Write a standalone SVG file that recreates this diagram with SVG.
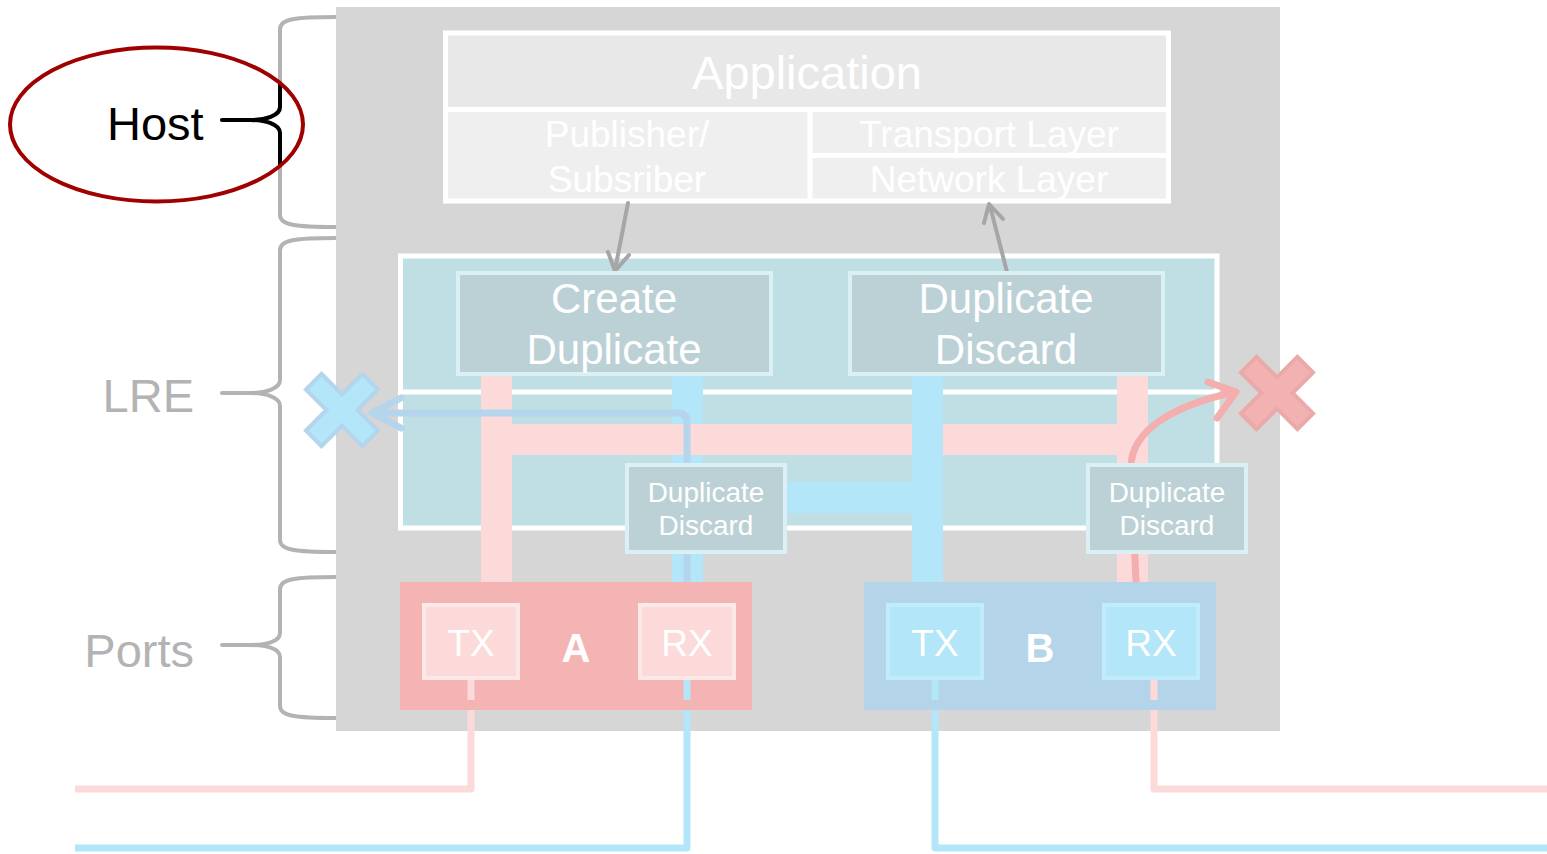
<svg xmlns="http://www.w3.org/2000/svg" width="1547" height="854" viewBox="0 0 1547 854">
<style>
.brace{fill:none;stroke:#b3b3b3;stroke-width:4;stroke-linecap:round;stroke-linejoin:round}
.lbl{font-family:"Liberation Sans",Arial,sans-serif;font-size:47px;fill:#b3b3b3}
.w{font-family:"Liberation Sans",Arial,sans-serif;fill:#ffffff;text-anchor:middle}
.box{fill:#bcd1d6;stroke:#daf0f5;stroke-width:4}
.pink{fill:#fddada}
.blue{fill:#b2e6f8}
.garrow{fill:none;stroke:#a6a6a6;stroke-width:4;stroke-linecap:round;stroke-linejoin:round}
.wire{fill:none;stroke-width:7;stroke-linejoin:round}
</style>
<defs>
<clipPath id="ellClip"><ellipse cx="156.5" cy="124.5" rx="146.5" ry="77"/></clipPath>
<path id="cross" d="M-11,-40 L11,-40 L11,-11 L40,-11 L40,11 L11,11 L11,40 L-11,40 L-11,11 L-40,11 L-40,-11 L-11,-11 Z"/>
</defs>

<!-- braces -->
<g id="braces">
<path id="brace-host" class="brace" d="M336,17 C295,17 280,19 280,29 L280,107 C280,116 265,120 250,120 L222,120 M250,120 C265,120 280,124 280,133 L280,215 C280,225 295,227 336,227"/>
<path class="brace" style="stroke:#000000" clip-path="url(#ellClip)" d="M336,17 C295,17 280,19 280,29 L280,107 C280,116 265,120 250,120 L222,120 M250,120 C265,120 280,124 280,133 L280,215 C280,225 295,227 336,227"/>
<path id="brace-lre" class="brace" d="M336,238 C295,238 280,240 280,250 L280,380 C280,389 265,393 250,393 L222,393 M250,393 C265,393 280,397 280,406 L280,540 C280,550 295,552 336,552"/>
<path id="brace-ports" class="brace" d="M336,577 C295,577 280,579 280,589 L280,633 C280,642 265,645 250,645 L222,645 M250,645 C265,645 280,648 280,657 L280,706 C280,716 295,718 336,718"/>
</g>

<!-- host background -->
<rect id="host-bg" x="336" y="7" width="944" height="724" fill="#d6d6d6"/>

<!-- application stack -->
<g id="app">
<rect x="445.5" y="33" width="723" height="76" fill="#e8e8e8"/>
<rect x="445.5" y="109" width="723" height="92" fill="#efefef"/>
<rect x="445.5" y="33" width="723" height="168" fill="none" stroke="#ffffff" stroke-width="5"/>
<line x1="445.5" y1="109.5" x2="1168.5" y2="109.5" stroke="#ffffff" stroke-width="5"/>
<line x1="810" y1="109.5" x2="810" y2="201" stroke="#ffffff" stroke-width="5"/>
<line x1="810" y1="155.5" x2="1168.5" y2="155.5" stroke="#ffffff" stroke-width="5"/>
<text class="w" x="807" y="89" font-size="47">Application</text>
<text class="w" x="627" y="147" font-size="37">Publisher/</text>
<text class="w" x="627" y="192" font-size="37">Subsriber</text>
<text class="w" x="989" y="147" font-size="37">Transport Layer</text>
<text class="w" x="989" y="192" font-size="37">Network Layer</text>
</g>

<!-- LRE -->
<g id="lre">
<rect x="400.5" y="256" width="816.5" height="272" fill="#bfdfe5" stroke="#ffffff" stroke-width="5"/>
<line x1="400.5" y1="392" x2="1217" y2="392" stroke="#ffffff" stroke-width="5"/>
</g>

<!-- connectors -->
<g id="connectors">
<g id="bands">
<rect class="blue" x="672" y="375" width="31" height="207"/>
<rect class="pink" x="481" y="375" width="31" height="207"/>
<rect class="pink" x="481" y="424" width="667" height="31"/>
<rect class="pink" x="1117" y="375" width="31" height="207"/>
<rect class="blue" x="786" y="482" width="127" height="31"/>
<rect class="blue" x="912" y="375" width="31" height="207"/>
</g>
<path class="garrow" d="M628,203 L615,270 M608,252 L615,271 L629,255"/>
<path class="garrow" d="M1007,272 L990,206 M984,223 L989,204 L1003,219"/>
<path id="blue-loop" fill="none" stroke="#b4d5ec" stroke-width="7" stroke-linecap="round" stroke-linejoin="round" d="M687,582 L687,422 Q687,413 678,413 L374,413 M401,398 L372,413 L401,428"/>
<path id="pink-curve" fill="none" stroke="#f4aeae" stroke-width="7" stroke-linecap="round" stroke-linejoin="round" d="M1136,582 L1131,470 C1129,430 1175,405 1235,392 M1208,382 L1236,392 L1217,418"/>
<path class="wire" stroke="#fddada" d="M471,680 L471,789 L75,789"/>
<path class="wire" stroke="#b2e6f8" d="M687,680 L687,848 L75,848"/>
<path class="wire" stroke="#b2e6f8" d="M935,680 L935,848 L1547,848"/>
<path class="wire" stroke="#fddada" d="M1154,680 L1154,789 L1547,789"/>
</g>

<!-- LRE function boxes -->
<g id="create-duplicate">
<rect class="box" x="458" y="273" width="313" height="101"/>
<text class="w" x="614" y="313" font-size="42">Create</text>
<text class="w" x="614" y="364" font-size="42">Duplicate</text>
</g>
<g id="duplicate-discard-top">
<rect class="box" x="850" y="273" width="313" height="101"/>
<text class="w" x="1006" y="313" font-size="42">Duplicate</text>
<text class="w" x="1006" y="364" font-size="42">Discard</text>
</g>
<g id="duplicate-discard-a">
<rect class="box" x="627" y="465" width="158" height="87"/>
<text class="w" x="706" y="502" font-size="28">Duplicate</text>
<text class="w" x="706" y="535" font-size="28">Discard</text>
</g>
<g id="duplicate-discard-b">
<rect class="box" x="1088" y="465" width="158" height="87"/>
<text class="w" x="1167" y="502" font-size="28">Duplicate</text>
<text class="w" x="1167" y="535" font-size="28">Discard</text>
</g>

<!-- ports -->
<g id="port-a">
<rect x="400" y="582" width="352" height="128" fill="#f4b4b4"/>
<rect x="424" y="605" width="94" height="73" fill="#fddada" stroke="#fde8e8" stroke-width="4"/>
<rect x="640" y="605" width="94" height="73" fill="#fddada" stroke="#fde8e8" stroke-width="4"/>
<text class="w" x="471" y="656" font-size="37">TX</text>
<text class="w" x="687" y="656" font-size="37">RX</text>
<text class="w" x="576" y="662" font-size="40" font-weight="bold">A</text>
</g>
<g id="port-b">
<rect x="864" y="582" width="352" height="128" fill="#b4d4ea"/>
<rect x="888" y="605" width="94" height="73" fill="#b2e6f8" stroke="#c0ecfb" stroke-width="4"/>
<rect x="1104" y="605" width="94" height="73" fill="#b2e6f8" stroke="#c0ecfb" stroke-width="4"/>
<text class="w" x="935" y="656" font-size="37">TX</text>
<text class="w" x="1151" y="656" font-size="37">RX</text>
<text class="w" x="1040" y="662" font-size="40" font-weight="bold">B</text>
</g>
<g id="wire-stubs">
<path class="wire" stroke="#fddada" d="M471,680 L471,700"/>
<path class="wire" stroke="#b2e6f8" d="M687,680 L687,700"/>
<path class="wire" stroke="#b2e6f8" d="M935,680 L935,700"/>
<path class="wire" stroke="#fddada" d="M1154,680 L1154,700"/>
</g>

<!-- X marks -->
<g id="x-blue"><use href="#cross" transform="translate(342,410) rotate(45)" fill="#b2e6f8" stroke="#b4d5ec" stroke-width="4"/></g>
<g id="x-red"><use href="#cross" transform="translate(1277,393) rotate(45)" fill="#f3b2b2" stroke="#ebaaaa" stroke-width="4"/></g>

<!-- labels -->
<g id="host-label">
<ellipse cx="156.5" cy="124.5" rx="146.5" ry="77" fill="none" stroke="#a00000" stroke-width="4"/>
<text x="107" y="140" font-family="Liberation Sans, Arial, sans-serif" font-size="47" fill="#000000">Host</text>
</g>
<g id="lre-label"><text class="lbl" x="194" y="412" text-anchor="end">LRE</text></g>
<g id="ports-label"><text class="lbl" x="194" y="667" text-anchor="end">Ports</text></g>
</svg>
